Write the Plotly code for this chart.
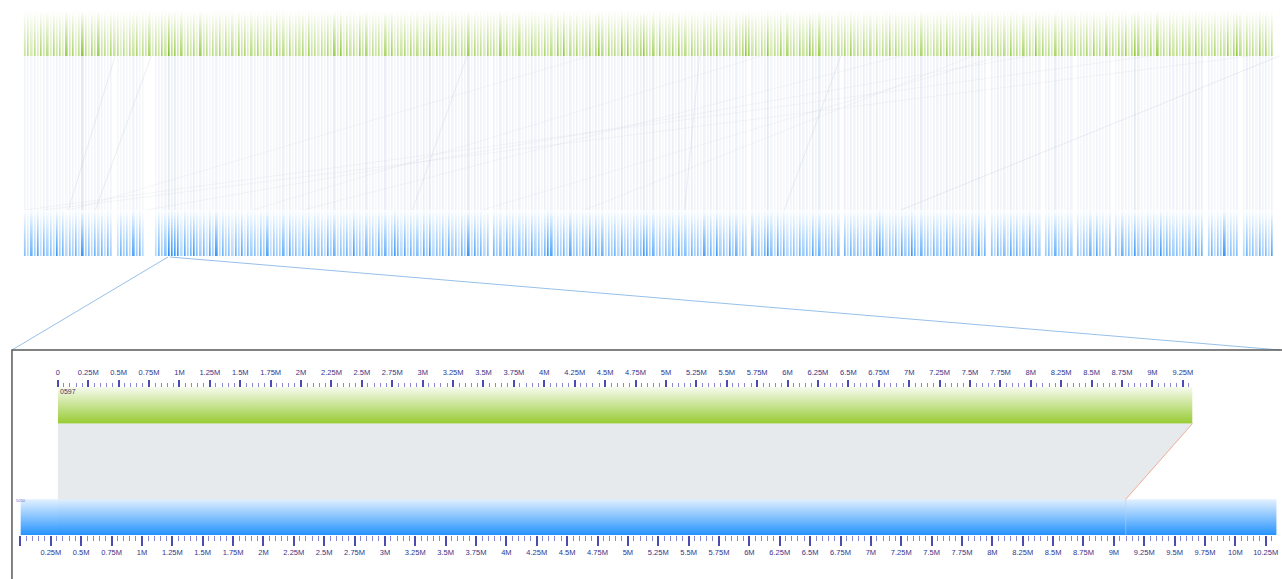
import numpy as np
import plotly.graph_objects as go

W, H = 1282, 579

# ---------------------------------------------------------------------------
# Whole-assembly overview: one shade code per contig, in assembly order
# (0 = no block, 9 = strongest block)
# ---------------------------------------------------------------------------
green_shade_codes = (
    "4535364536453746354536474536453535463546"
    "3546495746354637453546364537463546354637"
    "4536354637453546374536453746354536473546"
    "3645364537463546354736453645374635463546"
    "4536453746354635473645364536473546354637"
    "3546374536453546473645354637453546354736"
    "4536453647354635463745364536354736453546"
    "3645354637453546364735463645374536453546"
    "4536473546354637453645364735463546374536"
    "45364537463546354736453645374635"
)
blue_shade_codes = (
    "5364736453746354637453646364536453746354"
    "4364536453746354637453645364736453647354"
    "4637453647364537463546374536453746354637"
    "3645374635463745364537463546453746354637"
    "4536473546374536453746354637453645374635"
    "3546374536453746354537463545645364537463"
    "4536453746354635463645364537463546374536"
    "3645364537463546354636453645374635463545"
    "4536453647535463745364536453645374636465"
    "45364537464463546354573645364537"
)
green_dark_contigs = [18, 99, 127, 169, 180, 187, 194, 226, 233, 246, 317, 348, 380]
blue_dark_contigs = [10, 18, 46, 47, 48, 53, 60, 103, 116, 127, 139, 164, 177, 194,
                     217, 233, 268, 278, 299, 315, 348, 356, 376]
blue_gap_contigs = [28, 38, 39, 40, 146, 227, 256, 302, 319, 329, 341, 370, 381]
selected_contig = 45

# cross links between the two assemblies: (green contig, blue contig)
strong_links = [(28.1, 13.4), (39.4, 21.9), (138.4, 121.3), (211.3, 206.6),
                (255.6, 237.8), (393.1, 274.4)]
faint_links = [(352.5, 0.0), (176.6, 14.1), (296.9, 175.3), (314.4, 37.8),
               (383.8, 5.6), (274.4, 86.9), (305.6, 143.1), (230.6, 71.3)]

# ---------------------------------------------------------------------------
# Zoomed pair
# ---------------------------------------------------------------------------
top_name = "0597"
bottom_name = "5050"
top_length_mb = 9.33
bottom_length_mb = 10.34
top_aln_mb = (0.0, 9.33)
bottom_aln_mb = (0.308, 9.098)

top_tick_labels = ["0", "0.25M", "0.5M", "0.75M", "1M", "1.25M", "1.5M", "1.75M",
                   "2M", "2.25M", "2.5M", "2.75M", "3M", "3.25M", "3.5M", "3.75M",
                   "4M", "4.25M", "4.5M", "4.75M", "5M", "5.25M", "5.5M", "5.75M",
                   "6M", "6.25M", "6.5M", "6.75M", "7M", "7.25M", "7.5M", "7.75M",
                   "8M", "8.25M", "8.5M", "8.75M", "9M", "9.25M"]
bottom_tick_labels = ["", "0.25M", "0.5M", "0.75M", "1M", "1.25M", "1.5M", "1.75M",
                      "2M", "2.25M", "2.5M", "2.75M", "3M", "3.25M", "3.5M", "3.75M",
                      "4M", "4.25M", "4.5M", "4.75M", "5M", "5.25M", "5.5M", "5.75M",
                      "6M", "6.25M", "6.5M", "6.75M", "7M", "7.25M", "7.5M", "7.75M",
                      "8M", "8.25M", "8.5M", "8.75M", "9M", "9.25M", "9.5M", "9.75M",
                      "10M", "10.25M"]
tick_step_mb = 0.25

# ---------------------------------------------------------------------------
# Layout geometry (pixels)
# ---------------------------------------------------------------------------
OV_LEFT, OV_PITCH = 22.0, 3.2
GREEN_Y = (12.0, 56.0)
BLUE_Y = (210.0, 256.0)
TOP_BAR_Y = (387.0, 423.5)
BOT_BAR_Y = (499.3, 535.0)
TOP_ZERO_PX, TOP_MB_PX = 56.0, 122.0
BOT_ZERO_PX, BOT_MB_PX = 18.5, 121.87
BOX_LEFT_PX, BOX_TOP_PX = 10.0, 350.0

x_dom = [0.0, 1.0]
x_rng = [-0.5 - OV_LEFT / OV_PITCH, -0.5 + (W - OV_LEFT) / OV_PITCH]
x2_dom = [TOP_ZERO_PX / W, (TOP_ZERO_PX + TOP_MB_PX * top_length_mb) / W]
x2_rng = [0.0, top_length_mb]
x3_dom = [BOT_ZERO_PX / W, (BOT_ZERO_PX + BOT_MB_PX * bottom_length_mb) / W]
x3_rng = [0.0, bottom_length_mb]


def to_px(v, dom, rng):
    return W * (dom[0] + (v - rng[0]) / (rng[1] - rng[0]) * (dom[1] - dom[0]))


def from_px(p, dom, rng):
    return rng[0] + (p / W - dom[0]) / (dom[1] - dom[0]) * (rng[1] - rng[0])


def shades(codes, dark, gaps=()):
    s = np.array([int(c) for c in codes], dtype=float)
    s[list(dark)] = 8
    s[list(gaps)] = 0
    s[selected_contig] = 9
    return s / 9.0


green_s = shades(green_shade_codes, green_dark_contigs)
blue_s = shades(blue_shade_codes, blue_dark_contigs, blue_gap_contigs)

fig = go.Figure()

STRIPE_GAP = 1.3


def band(values, y0, y1, color_hi, rows=22):
    edges = np.linspace(y0, y1, rows + 1)
    centers = (edges[:-1] + edges[1:]) / 2
    ramp = 0.03 + 0.97 * (centers - y0) / (y1 - y0)
    z = ramp[:, None] * values[None, :]
    return go.Heatmap(x=np.arange(len(values)), y=edges, z=z, xgap=STRIPE_GAP, ygap=0,
                      zmin=0, zmax=1, colorscale=[[0, "#ffffff"], [1, color_hi]],
                      showscale=False, hoverinfo="skip", xaxis="x", yaxis="y")


# ribbons between the two assemblies
fig.add_trace(go.Heatmap(x=np.arange(len(blue_s)), y=[GREEN_Y[1], BLUE_Y[0]],
                         z=[np.minimum(blue_s, green_s[:len(blue_s)]) * 1.1],
                         xgap=STRIPE_GAP, zmin=0, zmax=1,
                         colorscale=[[0, "#ffffff"], [1, "#e4e9f2"]],
                         showscale=False, hoverinfo="skip", xaxis="x", yaxis="y"))


def link_trace(pairs, color):
    xs, ys = [], []
    for g, b in pairs:
        xs += [g, b, None]
        ys += [GREEN_Y[1], BLUE_Y[0], None]
    return go.Scatter(x=xs, y=ys, mode="lines", line=dict(color=color, width=1),
                      hoverinfo="skip", xaxis="x", yaxis="y")


fig.add_trace(link_trace(faint_links, "rgba(190,198,218,0.16)"))
fig.add_trace(link_trace(strong_links, "rgba(175,185,210,0.24)"))

fig.add_trace(band(green_s, GREEN_Y[0], GREEN_Y[1], "#80be20"))
fig.add_trace(band(blue_s, BLUE_Y[0], BLUE_Y[1], "#1a86f2"))

# connectors from the selected contig to the zoom box
sel_l = from_px(OV_LEFT + OV_PITCH * selected_contig + 0.5, x_dom, x_rng)
sel_r = from_px(OV_LEFT + OV_PITCH * selected_contig + 2.5, x_dom, x_rng)
fig.add_trace(go.Scatter(
    x=[sel_l, from_px(BOX_LEFT_PX, x_dom, x_rng), None, sel_r, from_px(W, x_dom, x_rng)],
    y=[BLUE_Y[1] + 1, BOX_TOP_PX, None, BLUE_Y[1] + 1, BOX_TOP_PX],
    mode="lines", line=dict(color="rgba(140,185,230,0.9)", width=1),
    hoverinfo="skip", xaxis="x", yaxis="y"))

# alignment ribbon of the zoomed pair (drawn in bottom-sequence coordinates)
tl = from_px(to_px(top_aln_mb[0], x2_dom, x2_rng), x3_dom, x3_rng)
tr = from_px(to_px(top_aln_mb[1], x2_dom, x2_rng), x3_dom, x3_rng)
bl, br = bottom_aln_mb
fig.add_trace(go.Scatter(
    x=[tl, tr, br, br, bl, bl, tl],
    y=[TOP_BAR_Y[1], TOP_BAR_Y[1], BOT_BAR_Y[0], BOT_BAR_Y[1], BOT_BAR_Y[1], BOT_BAR_Y[0], TOP_BAR_Y[1]],
    fill="toself", fillcolor="rgba(198,205,212,0.42)", mode="lines", line=dict(width=0),
    hoverinfo="skip", xaxis="x3", yaxis="y"))

# top sequence bar
fig.add_trace(go.Scatter(
    x=[0, top_length_mb, top_length_mb, 0, 0],
    y=[TOP_BAR_Y[0], TOP_BAR_Y[0], TOP_BAR_Y[1], TOP_BAR_Y[1], TOP_BAR_Y[0]],
    fill="toself", mode="lines", line=dict(width=0),
    fillgradient=dict(type="vertical", colorscale=[[0, "#f7fbef"], [1, "#98cb34"]],
                      start=TOP_BAR_Y[0], stop=TOP_BAR_Y[1]),
    hoverinfo="skip", xaxis="x2", yaxis="y"))

# bottom sequence bar
fig.add_trace(go.Scatter(
    x=[0, bottom_length_mb, bottom_length_mb, 0, 0],
    y=[BOT_BAR_Y[0], BOT_BAR_Y[0], BOT_BAR_Y[1], BOT_BAR_Y[1], BOT_BAR_Y[0]],
    fill="toself", mode="lines", line=dict(width=0),
    fillgradient=dict(type="vertical",
                      colorscale=[[0, "rgba(222,239,255,0.9)"], [1, "rgba(28,142,255,0.96)"]],
                      start=BOT_BAR_Y[0], stop=BOT_BAR_Y[1]),
    hoverinfo="skip", xaxis="x3", yaxis="y"))

# ribbon edges
fig.add_trace(go.Scatter(x=[tr, br], y=[TOP_BAR_Y[1], BOT_BAR_Y[0]], mode="lines",
                         line=dict(color="rgba(238,160,130,0.85)", width=1),
                         hoverinfo="skip", xaxis="x3", yaxis="y"))
fig.add_trace(go.Scatter(x=[br, br], y=[BOT_BAR_Y[0], BOT_BAR_Y[1]], mode="lines",
                         line=dict(color="rgba(200,205,220,0.55)", width=1),
                         hoverinfo="skip", xaxis="x3", yaxis="y"))

TICK_FONT = dict(family="Arial, Liberation Sans, sans-serif", size=7.5, color="#34348a")
MAJOR_C, MINOR_C = "#4b4bb0", "#8888d0"

fig.update_layout(
    width=W, height=H, margin=dict(l=0, r=0, t=0, b=0),
    paper_bgcolor="white", plot_bgcolor="rgba(0,0,0,0)", showlegend=False,
    xaxis=dict(domain=x_dom, range=x_rng, visible=False, anchor="y", fixedrange=True),
    yaxis=dict(domain=[0, 1], range=[H, 0], visible=False, anchor="x", fixedrange=True),
    xaxis2=dict(domain=x2_dom, range=x2_rng, anchor="free", position=1 - TOP_BAR_Y[0] / H,
                side="top", showline=False, showgrid=False, zeroline=False,
                tickmode="array",
                tickvals=[i * tick_step_mb for i in range(len(top_tick_labels))],
                ticktext=top_tick_labels, ticks="outside", ticklen=7, tickwidth=2,
                tickcolor=MAJOR_C, tickangle=0, tickfont=TICK_FONT, ticklabelstandoff=2,
                minor=dict(ticks="outside", dtick=0.05, tick0=0, ticklen=4, tickwidth=1,
                           tickcolor=MINOR_C, showgrid=False),
                fixedrange=True),
    xaxis3=dict(domain=x3_dom, range=x3_rng, anchor="free", position=1 - BOT_BAR_Y[1] / H,
                side="bottom", showline=False, showgrid=False, zeroline=False,
                tickmode="array",
                tickvals=[i * tick_step_mb for i in range(len(bottom_tick_labels))],
                ticktext=bottom_tick_labels, ticks="outside", ticklen=10, tickwidth=2,
                tickcolor=MAJOR_C, tickangle=0, tickfont=TICK_FONT,
                minor=dict(ticks="outside", dtick=0.05, tick0=0, ticklen=5, tickwidth=1,
                           tickcolor=MINOR_C, showgrid=False),
                fixedrange=True),
    shapes=[dict(type="rect", xref="paper", yref="paper",
                 x0=BOX_LEFT_PX / W, x1=1.02, y0=1 - BOX_TOP_PX / H, y1=-0.05,
                 line=dict(color="#5a5a5a", width=1.5), fillcolor="rgba(0,0,0,0)")],
    annotations=[
        dict(text=top_name, xref="x2", yref="y", x=0, y=TOP_BAR_Y[0] + 4.5,
             xanchor="left", yanchor="middle", showarrow=False,
             font=dict(family="Arial, Liberation Sans, sans-serif", size=7, color="#3a3a66")),
        dict(text=bottom_name, xref="x3", yref="y", x=0, y=BOT_BAR_Y[0] + 1.5,
             xanchor="left", xshift=-6, yanchor="middle", showarrow=False,
             font=dict(family="Arial, Liberation Sans, sans-serif", size=4, color="#6a6ad0")),
    ],
)

fig.write_html("out.html", config={"displayModeBar": False})
